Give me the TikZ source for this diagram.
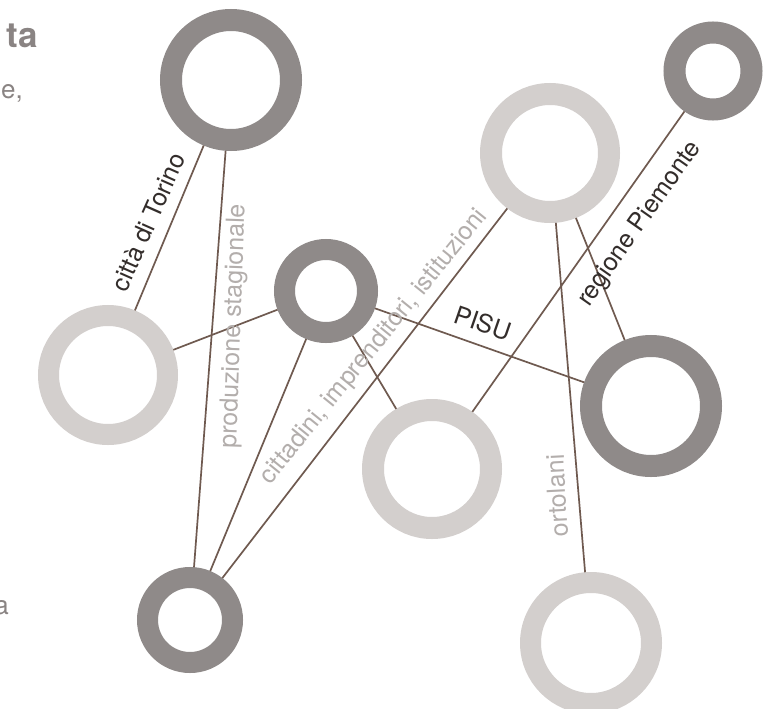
\documentclass[tikz,border=0pt]{standalone}
\usepackage{fontspec}
\setmainfont{TeX Gyre Heros}
\definecolor{ringdark}{HTML}{8F8A89}
\definecolor{ringlight}{HTML}{D3CFCD}
\definecolor{linkcol}{HTML}{6F5A50}
\definecolor{labdark}{HTML}{332D2B}
\definecolor{lablight}{HTML}{B3AEAC}
\definecolor{headcol}{HTML}{8A8483}
\tikzset{
  ring/.style={circle, inner sep=0pt, draw=#1},
  link/.style={draw=linkcol, line width=1.7pt},
  labd/.style={text=labdark, font=\fontsize{25}{25}\selectfont, inner sep=0pt},
  labl/.style={text=lablight, font=\fontsize{25}{25}\selectfont, inner sep=0pt},
  frag/.style={text=headcol, inner sep=0pt}
}
\begin{document}
\begin{tikzpicture}[x=1pt,y=-1pt]
\useasboundingbox[fill=white] (0,0) rectangle (779,709);
% rings
\node[ring=ringdark,  minimum size=120pt, line width=22pt] (A) at (231,80) {};
\node[ring=ringdark,  minimum size=77pt,  line width=22pt] (B) at (713,71) {};
\node[ring=ringlight, minimum size=118pt, line width=22pt] (C) at (550,153) {};
\node[ring=ringdark,  minimum size=83pt,  line width=21pt] (D) at (326,291) {};
\node[ring=ringlight, minimum size=119pt, line width=21pt] (E) at (108,375) {};
\node[ring=ringlight, minimum size=118pt, line width=22pt] (F) at (432,469) {};
\node[ring=ringdark,  minimum size=120pt, line width=22pt] (G) at (651,406) {};
\node[ring=ringdark,  minimum size=85pt,  line width=21pt] (H) at (190,620) {};
\node[ring=ringlight, minimum size=121pt, line width=21pt] (I) at (591,643) {};
% links
\draw[link] (A) -- (E);
\draw[link] (A) -- (H);
\draw[link] (E) -- (D);
\draw[link] (D) -- (G);
\draw[link] (D) -- (F);
\draw[link] (D) -- (H);
\draw[link] (C) -- (H);
\draw[link] (C) -- (I);
\draw[link] (C) -- (G);
\draw[link] (B) -- (F);
% labels
\node[labd, rotate=66] (l1) at (148,222) {città di Torino};
\node[labl, rotate=88] (l2) at (234,326) {produzione stagionale};
\node[labl, rotate=51] (l3) at (374,347) {cittadini, imprenditori, istituzioni};
\node[labd, rotate=-19] (l4) at (483,323) {PISU};
\node[labd, rotate=55] (l5) at (640,224) {regione Piemonte};
\node[labl, rotate=93] (l6) at (557,496) {ortolani};
% cut text fragments at the left edge
\node[frag, anchor=base east, font=\fontsize{35}{35}\selectfont\bfseries] (f1) at (38,48) {ta};
\node[frag, anchor=base east, font=\fontsize{26}{26}\selectfont] (f2) at (23,98) {e,};
\node[frag, anchor=base east, font=\fontsize{26}{26}\selectfont] (f3) at (9,614) {a};
\end{tikzpicture}
\end{document}
